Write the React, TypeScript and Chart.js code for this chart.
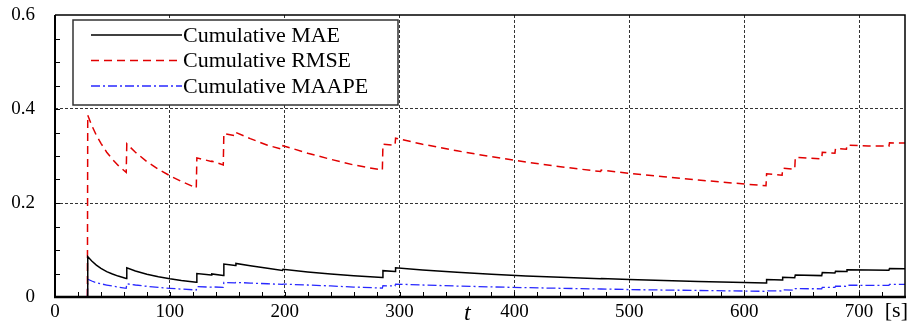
import { useEffect, useRef } from "react";
import { Chart, registerables } from "chart.js";

Chart.register(...registerables);

// Elapsed time [s]
const timeSec = [
  28.2, 28.5, 32, 36, 40, 45, 50, 55, 62, 62.5,
  70, 80, 90, 100, 110, 123, 123.5, 136, 136.5, 146.5,
  147, 157, 157.5, 170, 185, 198, 198.5, 220, 240, 260,
  285, 285.5, 296, 296.5, 320, 350, 380, 410, 440, 475,
  475.5, 500, 530, 560, 590, 619, 619.5, 633, 633.5, 644,
  644.5, 667.5, 668, 679, 679.5, 689, 689.5, 708, 726, 726.5,
  740,
];

const maeValues = [
  0, 0.086, 0.0766, 0.068, 0.061, 0.054, 0.049, 0.0445, 0.0395, 0.062,
  0.0554, 0.0484, 0.043, 0.0388, 0.0352, 0.0315, 0.05, 0.047, 0.049, 0.0455,
  0.07, 0.067, 0.0715, 0.0665, 0.061, 0.0565, 0.059, 0.0532, 0.0488, 0.045,
  0.0415, 0.056, 0.054, 0.062, 0.0574, 0.0525, 0.0484, 0.0448, 0.0418, 0.0387,
  0.0392, 0.0372, 0.0351, 0.0332, 0.0315, 0.03, 0.037, 0.0362, 0.042, 0.041,
  0.047, 0.0455, 0.052, 0.0512, 0.055, 0.0545, 0.058, 0.0575, 0.057, 0.0605,
  0.0602,
];

const rmseValues = [
  0, 0.387, 0.365, 0.344, 0.327, 0.308, 0.293, 0.28, 0.265, 0.326,
  0.308, 0.288, 0.272, 0.258, 0.246, 0.232, 0.296, 0.2885, 0.289, 0.281,
  0.348, 0.343, 0.35, 0.337, 0.323, 0.314, 0.322, 0.306, 0.293, 0.281,
  0.27, 0.325, 0.323, 0.338, 0.325, 0.311, 0.2985, 0.287, 0.277, 0.267,
  0.27, 0.263, 0.256, 0.249, 0.2425, 0.2367, 0.262, 0.259, 0.274, 0.272,
  0.297, 0.294, 0.308, 0.306, 0.316, 0.3145, 0.323, 0.3215, 0.321, 0.328,
  0.3275,
];

const maapeValues = [
  0, 0.038, 0.034, 0.0305, 0.028, 0.0255, 0.0232, 0.0212, 0.0185, 0.028,
  0.0255, 0.0228, 0.0205, 0.0185, 0.0168, 0.015, 0.022, 0.021, 0.0215, 0.0205,
  0.031, 0.03, 0.031, 0.0297, 0.0282, 0.0268, 0.0275, 0.0255, 0.0235, 0.0212,
  0.019, 0.024, 0.0235, 0.0275, 0.0255, 0.0233, 0.0215, 0.0199, 0.0185, 0.017,
  0.0171, 0.0158, 0.0148, 0.0139, 0.013, 0.0121, 0.013, 0.0128, 0.015, 0.0148,
  0.0177, 0.0175, 0.0205, 0.0203, 0.023, 0.0228, 0.025, 0.0249, 0.0248, 0.027,
  0.027,
];

const seriesLabels = ["Cumulative MAE", "Cumulative RMSE", "Cumulative MAAPE"];
const xTickValues = [0, 100, 200, 300, 400, 500, 600, 700];
const yTickValues = [0, 0.2, 0.4, 0.6];
const X_MAX = 740;
const Y_MAX = 0.6;
const X_MINOR_STEP = 20;
const Y_MINOR_STEP = 0.05;

const SERIF = '"Liberation Serif", "Times New Roman", serif';

const toPoints = (vals: number[]) => timeSec.map((t, i) => ({ x: t, y: vals[i] }));

const framePlugin = {
  id: "frameAndLegend",
  afterDraw(chart: any) {
    const { ctx, chartArea: a, scales } = chart;
    const xs = scales.x;
    const ys = scales.y;
    ctx.save();

    // inward minor ticks on bottom and left axes
    ctx.strokeStyle = "#000";
    ctx.lineWidth = 1;
    ctx.beginPath();
    for (let v = X_MINOR_STEP; v < X_MAX; v += X_MINOR_STEP) {
      const px = Math.round(xs.getPixelForValue(v)) + 0.5;
      ctx.moveTo(px, a.bottom);
      ctx.lineTo(px, a.bottom - 5);
    }
    for (let v = Y_MINOR_STEP; v < Y_MAX - 1e-9; v += Y_MINOR_STEP) {
      const py = Math.round(ys.getPixelForValue(v)) + 0.5;
      ctx.moveTo(a.left, py);
      ctx.lineTo(a.left + 5, py);
    }
    ctx.stroke();

    // plot frame
    ctx.strokeStyle = "#000";
    ctx.lineWidth = 1.5;
    ctx.beginPath();
    ctx.moveTo(a.left, a.top);
    ctx.lineTo(a.right, a.top);
    ctx.lineTo(a.right, a.bottom);
    ctx.stroke();
    ctx.lineWidth = 2;
    ctx.beginPath();
    ctx.moveTo(a.left, a.top);
    ctx.lineTo(a.left, a.bottom);
    ctx.stroke();
    ctx.lineWidth = 2.5;
    ctx.beginPath();
    ctx.moveTo(a.left - 1, a.bottom);
    ctx.lineTo(a.right + 1, a.bottom);
    ctx.stroke();

    // legend box
    const lx = a.left + 18;
    const ly = a.top + 5;
    const lw = 325;
    const lh = 85;
    ctx.fillStyle = "#fff";
    ctx.fillRect(lx, ly, lw, lh);
    ctx.strokeStyle = "#333";
    ctx.lineWidth = 1.5;
    ctx.strokeRect(lx, ly, lw, lh);

    chart.data.datasets.forEach((ds: any, i: number) => {
      const rowY = ly + 15 + i * 25.5;
      ctx.save();
      ctx.strokeStyle = ds.borderColor;
      ctx.lineWidth = ds.borderWidth;
      ctx.setLineDash(ds.borderDash || []);
      ctx.beginPath();
      ctx.moveTo(lx + 18, rowY);
      ctx.lineTo(lx + 109, rowY);
      ctx.stroke();
      ctx.restore();
      ctx.fillStyle = "#000";
      ctx.font = `22px ${SERIF}`;
      ctx.textAlign = "left";
      ctx.textBaseline = "middle";
      ctx.fillText(ds.label, lx + 110, rowY + 1);
    });

    // axis title and unit
    ctx.fillStyle = "#000";
    ctx.font = `italic 24px ${SERIF}`;
    ctx.textAlign = "center";
    ctx.textBaseline = "middle";
    ctx.fillText("t", a.left + (a.right - a.left) * 0.485, a.bottom + 17);
    ctx.font = `22px ${SERIF}`;
    ctx.textAlign = "right";
    ctx.fillText("[s]", a.right + 3, a.bottom + 14);

    ctx.restore();
  },
};

export default function App() {
  const canvasRef = useRef<HTMLCanvasElement | null>(null);

  useEffect(() => {
    const canvas = canvasRef.current;
    if (!canvas) return;

    const gridColor = (edge: number) => (c: any) =>
      c.tick && c.tick.value > 0 && c.tick.value < edge ? "#333" : "rgba(0,0,0,0)";

    const chart = new Chart(canvas, {
      type: "line",
      data: {
        datasets: [
          {
            label: seriesLabels[0],
            data: toPoints(maeValues),
            borderColor: "#000000",
            borderWidth: 1.5,
            borderDash: [],
            pointRadius: 0,
            tension: 0,
          },
          {
            label: seriesLabels[1],
            data: toPoints(rmseValues),
            borderColor: "rgb(225,0,0)",
            borderWidth: 1.5,
            borderDash: [8, 5],
            pointRadius: 0,
            tension: 0,
          },
          {
            label: seriesLabels[2],
            data: toPoints(maapeValues),
            borderColor: "rgb(40,40,255)",
            borderWidth: 1.3,
            borderDash: [9, 3, 2, 3],
            pointRadius: 0,
            tension: 0,
          },
        ],
      },
      options: {
        animation: false,
        responsive: false,
        events: [],
        layout: { padding: { top: 15, right: 4, left: 0, bottom: 0 } },
        plugins: {
          legend: { display: false },
          tooltip: { enabled: false },
        },
        scales: {
          x: {
            type: "linear",
            min: 0,
            max: X_MAX,
            afterBuildTicks: (s: any) => {
              s.ticks = xTickValues.map((v) => ({ value: v }));
            },
            afterFit: (s: any) => {
              s.height = 30;
            },
            ticks: {
              autoSkip: false,
              maxRotation: 0,
              padding: 0,
              color: "#000",
              font: { family: SERIF, size: 19 },
              callback: (v: any) => String(v),
            },
            grid: {
              color: gridColor(X_MAX),
              lineWidth: 1,
              drawTicks: true,
              tickLength: 4,
              tickColor: "rgba(0,0,0,0)",
            },
            border: { display: false, dash: [3, 2] },
          },
          y: {
            type: "linear",
            min: 0,
            max: Y_MAX,
            afterBuildTicks: (s: any) => {
              s.ticks = yTickValues.map((v) => ({ value: v }));
            },
            afterFit: (s: any) => {
              s.width = 55;
            },
            ticks: {
              padding: 0,
              color: "#000",
              font: { family: SERIF, size: 19 },
              callback: (v: any) => (Number(v) === 0 ? "0" : Number(v).toFixed(1)),
            },
            grid: {
              color: gridColor(Y_MAX),
              lineWidth: 1,
              drawTicks: true,
              tickLength: 20,
              tickColor: "rgba(0,0,0,0)",
            },
            border: { display: false, dash: [3, 2] },
          },
        },
      },
      plugins: [framePlugin],
    });

    return () => chart.destroy();
  }, []);

  return (
    <div style={{ position: "fixed", left: 0, top: 0, width: 909, height: 327, background: "#fff" }}>
      <canvas ref={canvasRef} width={909} height={327} style={{ display: "block", width: 909, height: 327 }} />
    </div>
  );
}
